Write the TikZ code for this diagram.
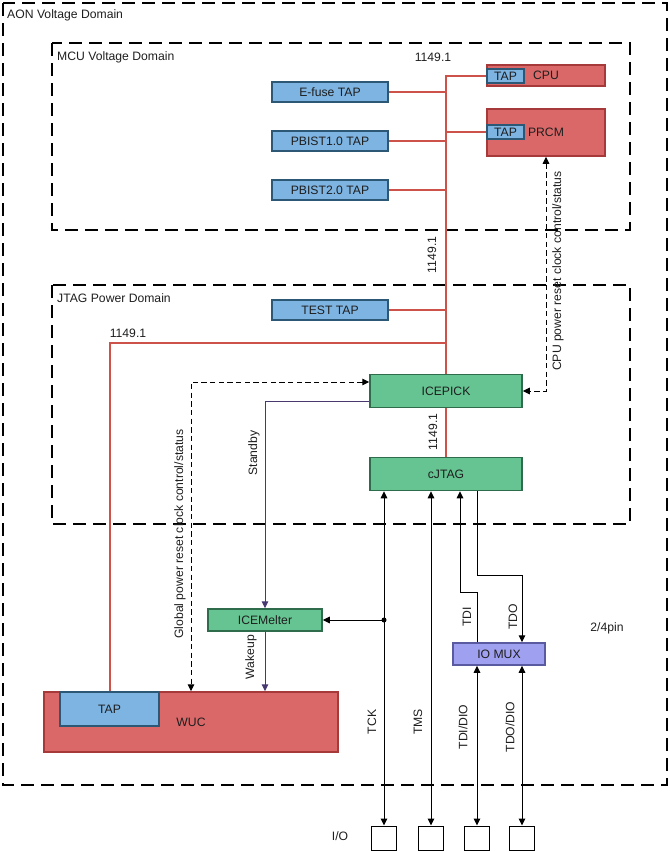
\documentclass[tikz,border=0pt]{standalone}
\usepackage{fontspec}
\setmainfont{Liberation Sans}
\usetikzlibrary{arrows.meta,positioning,calc}
\definecolor{tapblue}{RGB}{125,180,226}
\definecolor{tapedge}{RGB}{44,88,118}
\definecolor{corered}{RGB}{218,104,104}
\definecolor{coreedge}{RGB}{166,58,58}
\definecolor{jtaggreen}{RGB}{102,196,146}
\definecolor{jtagedge}{RGB}{46,108,76}
\definecolor{muxviolet}{RGB}{160,160,240}
\definecolor{muxedge}{RGB}{90,90,160}
\definecolor{buswire}{RGB}{204,82,74}
\definecolor{pmwire}{RGB}{72,56,112}
\definecolor{ink}{RGB}{30,30,30}
\tikzset{
  >={Triangle[length=2.1mm,width=2mm]},
  tapbox/.style={draw=tapedge,fill=tapblue,line width=0.45mm,inner sep=0pt,text=ink,
    minimum width=34.8mm,minimum height=6mm},
  smalltap/.style={tapbox,minimum width=11.1mm,minimum height=4.2mm},
  corebox/.style={draw=coreedge,fill=corered,line width=0.45mm,inner sep=0pt,text=ink,
    minimum width=35.4mm},
  jtagbox/.style={draw=jtagedge,fill=jtaggreen,line width=0.45mm,inner sep=0pt,text=ink,
    minimum width=45.6mm,minimum height=9.9mm},
  muxbox/.style={draw=muxedge,fill=muxviolet,line width=0.45mm,inner sep=0pt,text=ink,
    minimum width=27.6mm,minimum height=6.6mm},
  pinbox/.style={draw=black,line width=0.3mm,inner sep=0pt,minimum width=7.5mm,minimum height=7.2mm},
  domainbox/.style={draw=black,line width=0.6mm,dash pattern=on 3.9mm off 2.1mm},
  bus/.style={draw=buswire,line width=0.6mm},
  sig/.style={draw=black,line width=0.3mm},
  pm/.style={draw=pmwire,line width=0.3mm,>={Triangle[length=2.1mm,width=2mm,fill=pmwire]}},
  ctl/.style={draw=black,line width=0.3mm,dash pattern=on 1.6mm off 1mm},
  lbl/.style={text=ink,inner sep=0pt},
  vlbl/.style={lbl,rotate=90},
}
\begin{document}
\begin{tikzpicture}[x=0.3mm,y=-0.3mm,font=\fontsize{10.4}{12.5}\selectfont]
        \useasboundingbox (0,0) rectangle (669,851);
        \draw[domainbox] (3,3) rectangle (667,785);
        \draw[domainbox] (52,43) rectangle (630,230);
        \draw[domainbox] (52,285) rectangle (630,524);
        \node[lbl,anchor=west] (aon) at (7,15) {AON Voltage Domain};
        \node[lbl,anchor=west] (mcu) at (57,57) {MCU Voltage Domain};
        \node[lbl,anchor=west] (jpd) at (57,298) {JTAG Power Domain};

        \node[corebox,minimum height=6.3mm] (cpu) at (546,75.5) {CPU};
        \node[smalltap] (cputap) at (505.5,76) {TAP};
        \node[corebox,minimum height=14.1mm] (prcm) at (546,132.5) {PRCM};
        \node[smalltap] (prcmtap) at (505.5,132) {TAP};
        \node[tapbox] (efuse) at (330,92) {E-fuse TAP};
        \node[tapbox] (pbist1) at (330,141) {PBIST1.0 TAP};
        \node[tapbox] (pbist2) at (330,190) {PBIST2.0 TAP};
        \node[tapbox] (testtap) at (330,310) {TEST TAP};

        \node[jtagbox] (icepick) at (446,391) {ICEPICK};
        \node[jtagbox] (cjtag) at (446,474) {cJTAG};
        \node[jtagbox,minimum width=34.2mm,minimum height=6.6mm] (icemelter) at (265,620) {ICEMelter};
        \node[muxbox] (iomux) at (499,654) {IO MUX};
        \node[corebox,minimum width=88.2mm,minimum height=18mm] (wuc) at (191,722) {WUC};
        \node[tapbox,minimum width=29.7mm,minimum height=10.2mm] (wuctap) at (109.5,709) {TAP};

        \node[pinbox] (io1) at (384,838) {};
        \node[pinbox] (io2) at (431,838) {};
        \node[pinbox] (io3) at (477,838) {};
        \node[pinbox] (io4) at (522,838) {};
        \node[lbl] (iolbl) at (340,836) {I/O};

        \coordinate (wuc feed) at (446,343);
        \coordinate (tdi bend) at (460,592);
        \coordinate (tdo bend) at (522,575);

        \draw[bus] (icepick.north) |- (cputap.west);
        \draw[bus] (prcmtap.west) -- (prcmtap.west -| icepick.north);
        \draw[bus] (efuse.east) -- (efuse.east -| icepick.north);
        \draw[bus] (pbist1.east) -- (pbist1.east -| icepick.north);
        \draw[bus] (pbist2.east) -- (pbist2.east -| icepick.north);
        \draw[bus] (testtap.east) -- (testtap.east -| icepick.north);
        \draw[bus] (wuctap.north) |- (wuc feed);
        \draw[bus] (icepick.south) -- (cjtag.north);
        \node[lbl] (bus top) at (433,57) {1149.1};
        \node[vlbl] (bus mid) at (432,255) {1149.1};
        \node[vlbl] (bus low) at (433,432) {1149.1};
        \node[lbl] (bus wuc) at (128,333) {1149.1};

        \draw[ctl,<->] (prcm.south) |- (icepick.east);
        \node[vlbl] (cpuctl) at (558,271) {CPU power reset clock control/status};
        \draw[ctl,<->] ([yshift=2.7mm]icepick.west) -| (wuc.north);
        \node[vlbl] (globctl) at (180,534) {Global power reset clock control/status};
        \draw[pm,->] ([yshift=-3mm]icepick.west) -| (icemelter.north);
        \node[vlbl] (standby) at (254,453) {Standby};
        \draw[pm,->] (icemelter.south) -- (icemelter.south |- wuc.north);
        \node[vlbl] (wakeup) at (251,657) {Wakeup};

        \draw[sig,<->] (cjtag.south -| io1) -- (io1.north);
        \draw[sig,->] (io1 |- icemelter) -- (icemelter.east);
        \fill (io1 |- icemelter) circle[radius=0.75mm];
        \draw[sig,<->] (cjtag.south -| io2) -- (io2.north);
        \draw[sig,->] (iomux.north -| io3) |- (tdi bend) -- (tdi bend |- cjtag.south);
        \draw[sig,->] (cjtag.south -| io3) |- (tdo bend) -- (iomux.north -| io4);
        \draw[sig,<->] (iomux.south -| io3) -- (io3.north);
        \draw[sig,<->] (iomux.south -| io4) -- (io4.north);
        \node[vlbl] (tck) at (372,722) {TCK};
        \node[vlbl] (tms) at (418,722) {TMS};
        \node[vlbl] (tdi) at (467,617) {TDI};
        \node[vlbl] (tdo) at (513,617) {TDO};
        \node[vlbl] (tdidio) at (463,727) {TDI/DIO};
        \node[vlbl] (tdodio) at (510,727) {TDO/DIO};
        \node[lbl] (pins) at (607,628) {2/4pin};
\end{tikzpicture}
\end{document}
